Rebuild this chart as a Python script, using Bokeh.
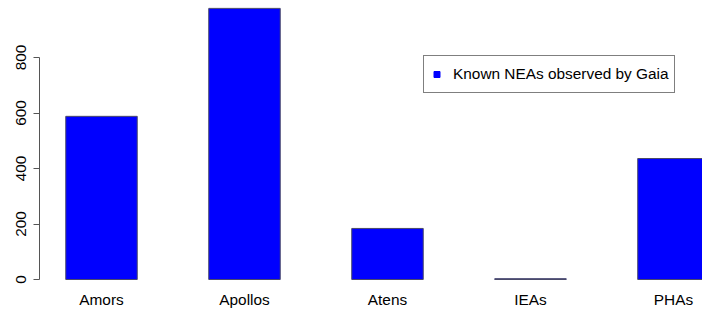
import numpy as np
from bokeh.plotting import figure
from bokeh.models import (ColumnDataSource, Range1d, FixedTicker, Legend, LegendItem)
from bokeh.embed import file_html
from bokeh.resources import INLINE

# Data
categories = ["Amors", "Apollos", "Atens", "IEAs", "PHAs"]
counts = [588, 977, 184, 3, 436]
y_ticks = [0, 200, 400, 600, 800]
legend_label = "Known NEAs observed by Gaia"

xpos = np.arange(len(categories))
source = ColumnDataSource(dict(x=xpos, top=counts, name=categories))

FONT = "Liberation Sans"
FS = "15.4px"

p = figure(width=702, height=314, output_backend="svg", toolbar_location=None,
           x_range=Range1d(-0.4336, 4.203), y_range=Range1d(-39.6, 1005.4),
           min_border_left=39, min_border_right=0, min_border_top=0,
           min_border_bottom=24)
p.outline_line_color = None
p.xgrid.visible = False
p.ygrid.visible = False
p.background_fill_color = "white"
p.border_fill_color = "white"

bars = p.vbar(x="x", top="top", bottom=0, width=0.5, source=source,
              fill_color="#0000ff", line_color="#4a4a6a", line_width=1)

# y axis (R style)
ya = p.yaxis[0]
ya.ticker = FixedTicker(ticks=y_ticks)
ya.bounds = (0, 800)
ya.major_label_orientation = "vertical"
ya.major_tick_out = 6
ya.major_tick_in = 0
ya.minor_tick_line_color = None
ya.axis_line_color = "#555555"
ya.major_tick_line_color = "#555555"
ya.major_label_text_font = FONT
ya.major_label_text_font_size = FS
ya.major_label_text_color = "black"
ya.major_label_standoff = 7

# x axis: names only
xa = p.xaxis[0]
xa.ticker = FixedTicker(ticks=list(xpos))
xa.major_label_overrides = {int(i): c for i, c in zip(xpos, categories)}
xa.axis_line_color = None
xa.major_tick_line_color = None
xa.minor_tick_line_color = None
xa.major_tick_out = 0
xa.major_label_text_font = FONT
xa.major_label_text_font_size = FS
xa.major_label_text_color = "black"
xa.major_label_standoff = 0

# legend (marker-only glyph; the point itself is not plotted)
leg_src = ColumnDataSource(dict(x=[np.nan], y=[np.nan]))
leg_r = p.scatter(x="x", y="y", source=leg_src, marker="square", size=7,
                  fill_color="#0000ff", line_color="#0000ff")
legend = Legend(items=[LegendItem(label=legend_label, renderers=[leg_r])],
                location=(384, 197), margin=0, padding=5, spacing=0,
                glyph_width=15, glyph_height=26, label_standoff=9,
                label_height=26,
                label_text_font=FONT, label_text_font_size=FS,
                label_text_color="black",
                border_line_color="black", border_line_width=1,
                background_fill_color="white", background_fill_alpha=1)
p.add_layout(legend)

open("out.html", "w").write(file_html(p, INLINE))
